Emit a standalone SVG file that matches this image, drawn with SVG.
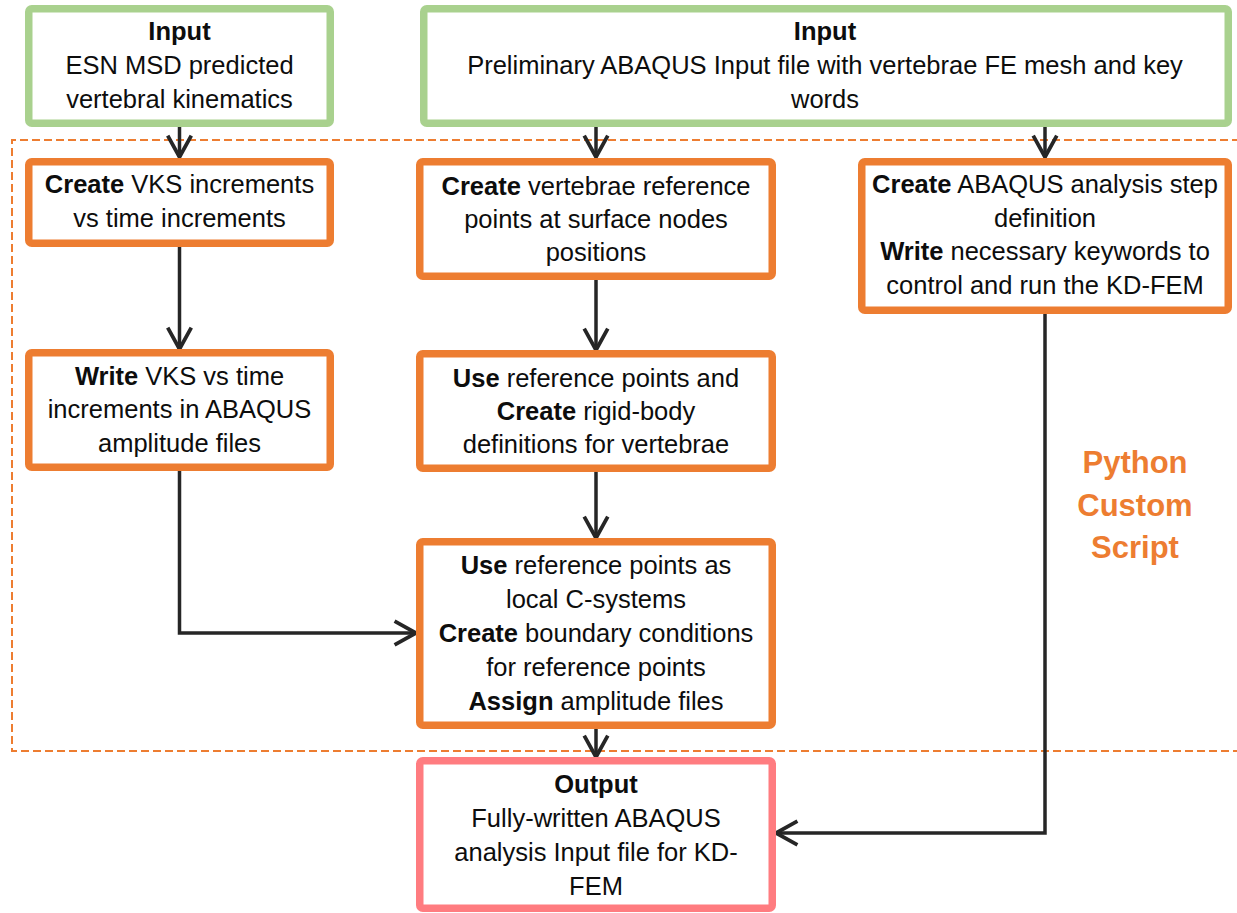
<svg xmlns="http://www.w3.org/2000/svg" width="1237" height="913" viewBox="0 0 1237 913">
<defs>
<style>
.in{fill:#fff;stroke:#A9D18E;stroke-width:7.5}
.pr{fill:#fff;stroke:#ED7D31;stroke-width:7.5}
.out{fill:#fff;stroke:#FF7C80;stroke-width:7.5}
text{font-family:"Liberation Sans",Arial,sans-serif;font-size:25.5px;fill:#0d0d0d;text-anchor:middle}
.b{font-weight:bold}
.py{font-weight:bold;font-size:31px;fill:#ED7D31}
.c{fill:none;stroke:#262626;stroke-width:3.5}
</style>
<marker id="ah" markerUnits="userSpaceOnUse" markerWidth="30" markerHeight="30" viewBox="-24 -14 28 28" refX="0" refY="0" orient="auto">
<path d="M -20 -11 L 0 0 L -20 11" fill="none" stroke="#262626" stroke-width="3.5" stroke-linejoin="miter"/>
</marker>
</defs>
<rect width="1237" height="913" fill="#fff"/>
<path d="M 1240 140 H 12 V 751 H 1240" fill="none" stroke="#ED7D31" stroke-width="2" stroke-dasharray="8 4"/>
<text class="py" x="1135" y="473">Python</text>
<text class="py" x="1135" y="516">Custom</text>
<text class="py" x="1135" y="558">Script</text>
<g id="connectors">
<line class="c" x1="179.5" y1="127" x2="179.5" y2="157" marker-end="url(#ah)"/>
<line class="c" x1="596" y1="127" x2="596" y2="157" marker-end="url(#ah)"/>
<line class="c" x1="1045" y1="127" x2="1045" y2="157" marker-end="url(#ah)"/>
<line class="c" x1="179.5" y1="247" x2="179.5" y2="349" marker-end="url(#ah)"/>
<line class="c" x1="596" y1="280" x2="596" y2="350" marker-end="url(#ah)"/>
<line class="c" x1="596" y1="472" x2="596" y2="538" marker-end="url(#ah)"/>
<polyline class="c" points="179.5,471 179.5,633 416,633" marker-end="url(#ah)"/>
<line class="c" x1="596" y1="729" x2="596" y2="757" marker-end="url(#ah)"/>
<polyline class="c" points="1045,314 1045,833 776,833" marker-end="url(#ah)"/>
</g>
<g id="input1">
<rect class="in" x="28.75" y="8.75" width="301.5" height="114.5" rx="3"/>
<text class="b" x="179.5" y="40">Input</text>
<text x="179.5" y="74">ESN MSD predicted</text>
<text x="179.5" y="108">vertebral kinematics</text>
</g>
<g id="input2">
<rect class="in" x="423.75" y="8.75" width="804.5" height="114.5" rx="3"/>
<text class="b" x="825" y="40">Input</text>
<text x="825" y="74">Preliminary ABAQUS Input file with vertebrae FE mesh and key</text>
<text x="825" y="108">words</text>
</g>
<g id="create-vks">
<rect class="pr" x="28.75" y="161.75" width="301.5" height="81.5" rx="3"/>
<text x="179.5" y="193"><tspan class="b">Create</tspan> VKS increments</text>
<text x="179.5" y="227">vs time increments</text>
</g>
<g id="create-refpoints">
<rect class="pr" x="419.75" y="161.75" width="352.5" height="114.5" rx="3"/>
<text x="596" y="195"><tspan class="b">Create</tspan> vertebrae reference</text>
<text x="596" y="228">points at surface nodes</text>
<text x="596" y="261">positions</text>
</g>
<g id="create-step">
<rect class="pr" x="861.75" y="161.75" width="366.5" height="148.5" rx="3"/>
<text x="1045" y="193"><tspan class="b">Create</tspan> ABAQUS analysis step</text>
<text x="1045" y="227">definition</text>
<text x="1045" y="260"><tspan class="b">Write</tspan> necessary keywords to</text>
<text x="1045" y="294">control and run the KD-FEM</text>
</g>
<g id="write-vks">
<rect class="pr" x="28.75" y="352.75" width="301.5" height="114.5" rx="3"/>
<text x="179.5" y="385"><tspan class="b">Write</tspan> VKS vs time</text>
<text x="179.5" y="418">increments in ABAQUS</text>
<text x="179.5" y="452">amplitude files</text>
</g>
<g id="rigid-body">
<rect class="pr" x="419.75" y="353.75" width="352.5" height="114.5" rx="3"/>
<text x="596" y="387"><tspan class="b">Use</tspan> reference points and</text>
<text x="596" y="420"><tspan class="b">Create</tspan> rigid-body</text>
<text x="596" y="453">definitions for vertebrae</text>
</g>
<g id="boundary">
<rect class="pr" x="419.75" y="541.75" width="352.5" height="183.5" rx="3"/>
<text x="596" y="574"><tspan class="b">Use</tspan> reference points as</text>
<text x="596" y="608">local C-systems</text>
<text x="596" y="642"><tspan class="b">Create</tspan> boundary conditions</text>
<text x="596" y="676">for reference points</text>
<text x="596" y="710"><tspan class="b">Assign</tspan> amplitude files</text>
</g>
<g id="output">
<rect class="out" x="419.75" y="760.75" width="352.5" height="147.5" rx="3"/>
<text class="b" x="596" y="793">Output</text>
<text x="596" y="827">Fully-written ABAQUS</text>
<text x="596" y="861">analysis Input file for KD-</text>
<text x="596" y="895">FEM</text>
</g>
</svg>
